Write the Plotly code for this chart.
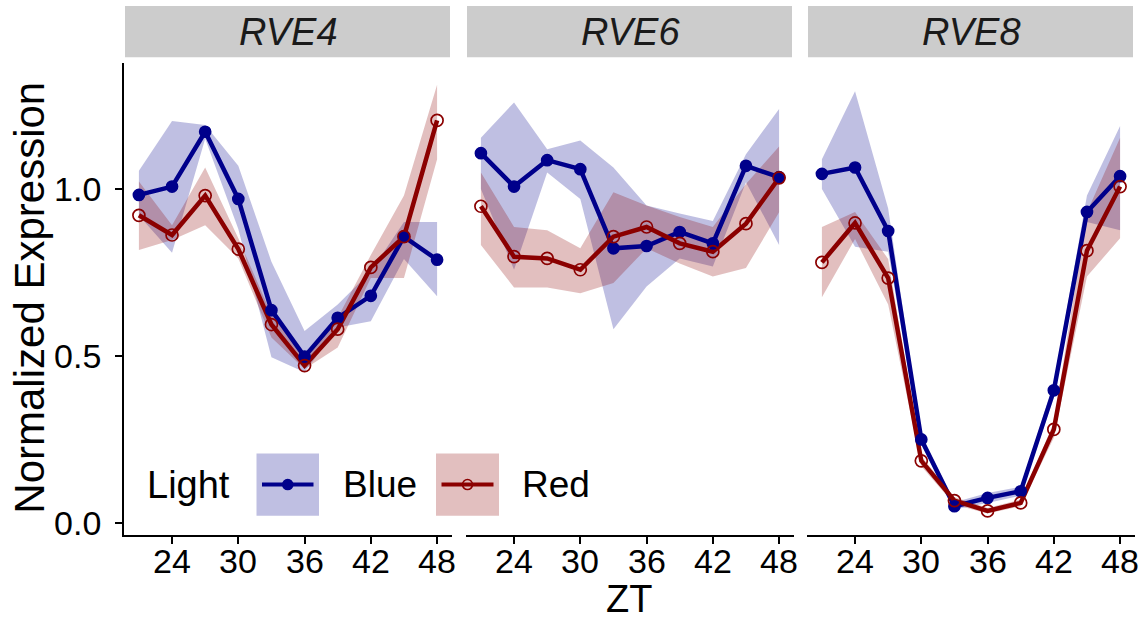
import plotly.graph_objects as go

# Sampling times (h)
ZT = [21, 24, 27, 30, 33, 36, 39, 42, 45, 48]
GENES = ["RVE4", "RVE6", "RVE8"]
X_TICKS = [24, 30, 36, 42, 48]
Y_TICKS = [0.0, 0.5, 1.0]
Y_TICK_TEXT = ["0.0", "0.5", "1.0"]

# Mean normalized expression and ribbon bounds per gene, blue light
RVE4_blue = [0.982, 1.007, 1.171, 0.970, 0.637, 0.498, 0.614, 0.680, 0.857, 0.788]
RVE4_blue_lo = [0.920, 0.809, 1.150, 0.880, 0.496, 0.451, 0.585, 0.604, 0.790, 0.679]
RVE4_blue_hi = [1.054, 1.203, 1.191, 1.069, 0.782, 0.575, 0.654, 0.753, 0.901, 0.901]

RVE6_blue = [1.107, 1.007, 1.086, 1.059, 0.822, 0.829, 0.871, 0.837, 1.069, 1.035]
RVE6_blue_lo = [1.000, 0.758, 1.049, 0.970, 0.580, 0.708, 0.792, 0.768, 1.020, 0.832]
RVE6_blue_hi = [1.153, 1.259, 1.119, 1.145, 1.064, 0.950, 0.926, 0.904, 1.104, 1.239]

RVE8_blue = [1.045, 1.064, 0.874, 0.250, 0.050, 0.075, 0.095, 0.397, 0.931, 1.038]
RVE8_blue_lo = [1.000, 0.827, 0.812, 0.235, 0.040, 0.060, 0.082, 0.375, 0.901, 0.876]
RVE8_blue_hi = [1.089, 1.292, 0.941, 0.265, 0.062, 0.090, 0.108, 0.420, 0.980, 1.188]

# Same for red light
RVE4_red = [0.921, 0.862, 0.980, 0.820, 0.594, 0.471, 0.580, 0.765, 0.857, 1.205]
RVE4_red_lo = [0.817, 0.847, 0.891, 0.792, 0.555, 0.461, 0.525, 0.733, 0.733, 1.089]
RVE4_red_hi = [1.022, 0.891, 1.064, 0.852, 0.624, 0.505, 0.614, 0.802, 0.980, 1.312]

RVE6_red = [0.948, 0.797, 0.792, 0.758, 0.857, 0.886, 0.837, 0.812, 0.896, 1.033]
RVE6_red_lo = [0.832, 0.705, 0.705, 0.688, 0.718, 0.822, 0.777, 0.738, 0.763, 0.930]
RVE6_red_hi = [1.049, 0.886, 0.876, 0.822, 0.990, 0.950, 0.916, 0.886, 1.015, 1.127]

RVE8_red = [0.780, 0.898, 0.733, 0.186, 0.067, 0.036, 0.060, 0.280, 0.815, 1.007]
RVE8_red_lo = [0.676, 0.850, 0.654, 0.170, 0.055, 0.028, 0.050, 0.255, 0.738, 0.852]
RVE8_red_hi = [0.886, 0.931, 0.790, 0.200, 0.078, 0.045, 0.070, 0.300, 0.930, 1.153]

BLUE = "#00008B"
RED = "#8B0000"
BLUE_FILL = "rgba(0,0,139,0.25)"
RED_FILL = "rgba(139,0,0,0.25)"
FONT = "Liberation Sans, Arial, sans-serif"

W, H = 1144, 630

series = {
    "RVE4": {"Blue": (RVE4_blue, RVE4_blue_lo, RVE4_blue_hi),
             "Red": (RVE4_red, RVE4_red_lo, RVE4_red_hi)},
    "RVE6": {"Blue": (RVE6_blue, RVE6_blue_lo, RVE6_blue_hi),
             "Red": (RVE6_red, RVE6_red_lo, RVE6_red_hi)},
    "RVE8": {"Blue": (RVE8_blue, RVE8_blue_lo, RVE8_blue_hi),
             "Red": (RVE8_red, RVE8_red_lo, RVE8_red_hi)},
}
style = {"Blue": (BLUE, BLUE_FILL, "circle"), "Red": (RED, RED_FILL, "circle-open")}

# panel placement in pixels (left, right); shared vertical extent
panels_px = [(124, 452), (466, 794), (807, 1135)]
panel_top, panel_bottom = 64, 541
y_dom = [1 - panel_bottom / H, 1 - panel_top / H]
x_range = [19.65, 49.35]
y_range = [-0.036, 1.376]

fig = go.Figure()

for i, gene in enumerate(GENES):
    xa = "x" if i == 0 else f"x{i + 1}"
    ya = "y" if i == 0 else f"y{i + 1}"
    # ribbons
    for light in ["Blue", "Red"]:
        mean, lo, hi = series[gene][light]
        col, fill, sym = style[light]
        fig.add_trace(go.Scatter(
            x=ZT + ZT[::-1], y=hi + lo[::-1], fill="toself", fillcolor=fill,
            line=dict(width=0), mode="lines", hoverinfo="skip",
            showlegend=False, xaxis=xa, yaxis=ya))
    # lines
    for light in ["Blue", "Red"]:
        mean, lo, hi = series[gene][light]
        col, fill, sym = style[light]
        fig.add_trace(go.Scatter(
            x=ZT, y=mean, mode="lines", line=dict(color=col, width=4.5),
            showlegend=False, xaxis=xa, yaxis=ya, name=light))
    # points
    for light in ["Blue", "Red"]:
        mean, lo, hi = series[gene][light]
        col, fill, sym = style[light]
        fig.add_trace(go.Scatter(
            x=ZT, y=mean, mode="markers",
            marker=dict(symbol=sym, color=col, size=11 if light == "Blue" else 12,
                        line=dict(color=col, width=1.7)),
            showlegend=False, xaxis=xa, yaxis=ya, name=light))

layout = dict(
    width=W, height=H, margin=dict(l=0, r=0, t=0, b=0),
    plot_bgcolor="white", paper_bgcolor="white",
    font=dict(family=FONT, color="black"),
    showlegend=False,
)

shapes = []
annotations = []

for i, (l, r) in enumerate(panels_px):
    key = "xaxis" if i == 0 else f"xaxis{i + 1}"
    ykey = "yaxis" if i == 0 else f"yaxis{i + 1}"
    anchor = "y" if i == 0 else f"y{i + 1}"
    xanchor = "x" if i == 0 else f"x{i + 1}"
    layout[key] = dict(
        domain=[l / W, r / W], range=x_range, anchor=anchor,
        tickmode="array", tickvals=X_TICKS, showticklabels=False,
        showline=True, linecolor="black", linewidth=1.8,
        ticks="outside", ticklen=7, tickwidth=1.8, tickcolor="black",
        showgrid=False, zeroline=False,
    )
    # x tick labels placed just under the tick marks
    for t in X_TICKS:
        annotations.append(dict(xref=xanchor, yref="paper", x=t, y=1 - 567 / H,
                                text=str(t), showarrow=False,
                                xanchor="center", yanchor="middle",
                                font=dict(size=34, family=FONT, color="black")))
    ydef = dict(domain=y_dom, range=y_range, anchor=xanchor,
                showgrid=False, zeroline=False)
    if i == 0:
        ydef.update(
            tickmode="array", tickvals=Y_TICKS, ticktext=Y_TICK_TEXT,
            showline=True, linecolor="black", linewidth=1.8,
            ticks="outside", ticklen=7, tickwidth=1.8, tickcolor="black",
            tickfont=dict(size=34, family=FONT, color="black"),
            ticklabelstandoff=7,
        )
    else:
        ydef.update(showticklabels=False, showline=False, ticks="")
        ydef["matches"] = "y"
    layout[ykey] = ydef

# facet strips
strip_top, strip_bottom = 6, 58
for (l, r), gene in zip(panels_px, GENES):
    shapes.append(dict(type="rect", xref="paper", yref="paper",
                       x0=(l + 1) / W, x1=(r - 2) / W,
                       y0=1 - strip_bottom / H, y1=1 - strip_top / H,
                       fillcolor="#CCCCCC", line=dict(width=0), layer="below"))
    annotations.append(dict(xref="paper", yref="paper", x=(l + r) / 2 / W,
                            y=1 - 32 / H, text=f"<i>{gene}</i>", showarrow=False,
                            xanchor="center", yanchor="middle",
                            font=dict(size=38, family=FONT, color="#1A1A1A")))

# axis titles
annotations.append(dict(xref="paper", yref="paper", x=30 / W, y=1 - 301 / H,
                        text="Normalized Expression", textangle=-90, showarrow=False,
                        xanchor="center", yanchor="middle",
                        font=dict(size=42, family=FONT, color="black")))
annotations.append(dict(xref="paper", yref="paper", x=629 / W, y=1 - 606 / H,
                        text="ZT", showarrow=False, xanchor="center", yanchor="middle",
                        font=dict(size=38, family=FONT, color="black")))

# legend inside the first panel
leg_y = 490
annotations.append(dict(xref="paper", yref="paper", x=145 / W, y=1 - leg_y / H,
                        text="Light", showarrow=False, xanchor="left", yanchor="middle",
                        font=dict(size=38, family=FONT, color="black")))
for (bx0, bx1, tx, light) in [(256.5, 319, 341, "Blue"), (436, 499, 520, "Red")]:
    col, fill, sym = style[light]
    shapes.append(dict(type="rect", xref="paper", yref="paper",
                       x0=bx0 / W, x1=bx1 / W, y0=1 - 521.5 / H, y1=1 - 458.5 / H,
                       fillcolor=fill, line=dict(width=0)))
    shapes.append(dict(type="line", xref="paper", yref="paper",
                       x0=(bx0 + 5.5) / W, x1=(bx1 - 5.5) / W,
                       y0=1 - leg_y / H, y1=1 - leg_y / H,
                       line=dict(color=col, width=4)))
    cx = (bx0 + bx1) / 2
    shapes.append(dict(type="circle", xref="paper", yref="paper",
                       xsizemode="pixel", ysizemode="pixel",
                       xanchor=cx / W, yanchor=1 - leg_y / H,
                       x0=-5, x1=5, y0=-5, y1=5,
                       fillcolor=col if light == "Blue" else "rgba(0,0,0,0)",
                       line=dict(color=col, width=1.6)))
    annotations.append(dict(xref="paper", yref="paper", x=tx / W, y=1 - leg_y / H,
                            text=light, showarrow=False, xanchor="left",
                            yanchor="middle",
                            font=dict(size=37, family=FONT, color="black")))

layout["shapes"] = shapes
layout["annotations"] = annotations
fig.update_layout(**layout)

fig.write_html("out.html")
